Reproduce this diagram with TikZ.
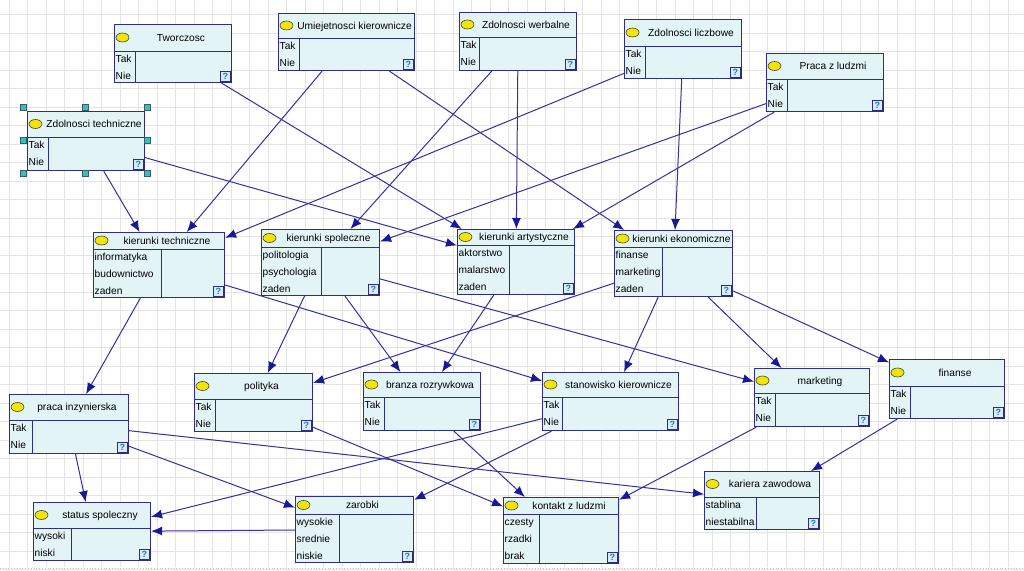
\documentclass[tikz,border=0pt]{standalone}
\usepackage{fontspec}
\setmainfont{Liberation Sans}
\usetikzlibrary{arrows.meta}
\definecolor{bnborder}{HTML}{2E2E88}
\definecolor{bnfill}{HTML}{E3F4F6}
\definecolor{bnedge}{HTML}{32329A}
\definecolor{bnhead}{HTML}{18189A}
\definecolor{bngrid}{HTML}{E4E4E4}
\definecolor{bnyellow}{HTML}{F2E600}
\definecolor{bnqtext}{HTML}{2A78B0}
\definecolor{bnqfill}{HTML}{D6ECF6}
\definecolor{bnhandlefill}{HTML}{1CCACA}
\tikzset{
 bnframe/.style={rectangle, draw=bnborder, fill=bnfill, line width=1.1pt, inner sep=0pt},
 bnsep/.style={draw=bnborder, line width=1pt},
 bntitle/.style={font=\fontsize{10.2}{12}\selectfont, text=black, inner sep=0pt, anchor=base},
 bnstate/.style={font=\fontsize{10.2}{12}\selectfont, text=black, inner sep=0pt, anchor=base west},
 bnq/.style={rectangle, draw=bnborder, fill=bnqfill, line width=0.8pt, minimum size=9.5pt, inner sep=0pt, font=\fontsize{9}{9}\selectfont\bfseries, text=bnqtext, anchor=south east},
 bnoval/.style={draw=black!75, fill=bnyellow, line width=0.6pt},
 bnarrow/.style={draw=bnedge, line width=1pt, -{Latex[length=11pt,width=9pt,color=bnhead]}},
 bnhandle/.style={rectangle, draw=black!70!cyan, fill=bnhandlefill, line width=0.6pt, minimum size=6pt, inner sep=0pt},
 bngridline/.style={draw=bngrid, line width=0.9pt}
}
% #1 name, #2 x1, #3 y1, #4 x2, #5 y2, #6 title bottom, #7 divider, #8 title, #9 states
\newcommand\bnnode[9]{%
 \node[bnframe, anchor=north west, minimum width={(#4-#2)*1pt}, minimum height={(#5-#3)*1pt}] (#1) at (#2,#3) {};
 \draw[bnsep] (#2,#6) -- (#4,#6) (#7,#6) -- (#7,#5);
 \draw[bnoval] ({#2+8.5},{(#3+#6)/2}) ellipse [x radius=6.5pt, y radius=4.5pt];
 \node[bntitle] (#1-title) at ({(#2+17+#4)/2},{(#3+#6)/2+3.7}) {#8};
 \foreach \bnst [count=\k from 0] in {#9} {\node[bnstate] (#1-s\k) at ({#2+1.5},{#6+11+17*\k}) {\bnst};}
 \node[bnq] (#1-q) at ({#4-0.6},{#5-0.6}) {?};
}
\begin{document}
\begin{tikzpicture}[x=1pt,y=-1pt]
\useasboundingbox (0,0) rectangle (1024,570);
\fill[white] (0,0) rectangle (1024,570);
\foreach \gx in {0,...,55} {\draw[bngridline] ({9.3+18.5*\gx},0) -- ({9.3+18.5*\gx},567);}
\foreach \gy in {0,...,30} {\draw[bngridline] (0,{14.5+18.5*\gy}) -- (1024,{14.5+18.5*\gy});}
\draw[black!25, dotted, line width=0.8pt] (0,568) -- (1024,568);

\bnnode{tw}{114}{24}{231}{82}{51}{135}{Tworczosc}{Tak,Nie}
\bnnode{zt}{27}{111}{144}{170}{137}{48}{Zdolnosci techniczne}{Tak,Nie}
\bnnode{uk}{278}{13}{414}{70}{38}{299}{Umiejetnosci kierownicze}{Tak,Nie}
\bnnode{zw}{459}{12}{576}{70}{37}{479}{Zdolnosci werbalne}{Tak,Nie}
\bnnode{zl}{624}{19}{741}{78}{46}{645}{Zdolnosci liczbowe}{Tak,Nie}
\bnnode{pl}{766}{53}{883}{111}{79}{787}{Praca z ludzmi}{Tak,Nie}
\bnnode{kt}{93}{232}{224}{297}{249}{161}{kierunki techniczne}{informatyka,budownictwo,zaden}
\bnnode{ks}{261}{229}{379}{295}{247}{321}{kierunki spoleczne}{politologia,psychologia,zaden}
\bnnode{ka}{457}{229}{574}{294}{245}{509}{kierunki artystyczne}{aktorstwo,malarstwo,zaden}
\bnnode{ke}{614}{230}{732}{296}{247}{662}{kierunki ekonomiczne}{finanse,marketing,zaden}
\bnnode{pi}{9}{394}{128}{453}{420}{32}{praca inzynierska}{Tak,Nie}
\bnnode{po}{194}{373}{312}{431}{399}{215}{polityka}{Tak,Nie}
\bnnode{br}{363}{372}{480}{430}{397}{384}{branza rozrywkowa}{Tak,Nie}
\bnnode{sk}{542}{372}{678}{430}{397}{562}{stanowisko kierownicze}{Tak,Nie}
\bnnode{ma}{754}{368}{869}{426}{393}{775}{marketing}{Tak,Nie}
\bnnode{fi}{889}{359}{1004}{418}{386}{910}{finanse}{Tak,Nie}
\bnnode{ss}{33}{502}{150}{560}{528}{71}{status spoleczny}{wysoki,niski}
\bnnode{za}{295}{496}{413}{562}{514}{339}{zarobki}{wysokie,srednie,niskie}
\bnnode{kl}{503}{497}{618}{563}{514}{539}{kontakt z ludzmi}{czesty,rzadki,brak}
\bnnode{kz}{704}{471}{819}{529}{497}{756}{kariera zawodowa}{stablina,niestabilna}

% selection handles of Zdolnosci techniczne
\node[bnhandle] (zt-h1) at (23.5,107.5) {};
\node[bnhandle] (zt-h2) at (85.5,107.5) {};
\node[bnhandle] (zt-h3) at (147.5,107.5) {};
\node[bnhandle] (zt-h4) at (23.5,140.5) {};
\node[bnhandle] (zt-h5) at (147.5,140.5) {};
\node[bnhandle] (zt-h6) at (23.5,173.5) {};
\node[bnhandle] (zt-h7) at (85.5,173.5) {};
\node[bnhandle] (zt-h8) at (147.5,173.5) {};

% connectors
\draw[bnarrow] (zt) -- (kt);
\draw[bnarrow] (zt) -- (ka);
\draw[bnarrow] (tw) -- (ka);
\draw[bnarrow] (uk) -- (kt);
\draw[bnarrow] (uk) -- (ke);
\draw[bnarrow] (zw) -- (ks);
\draw[bnarrow] (zw) -- (ka);
\draw[bnarrow] (zl) -- (kt);
\draw[bnarrow] (zl) -- (ke);
\draw[bnarrow] (pl) -- (ks);
\draw[bnarrow] (pl) -- (ka);
\draw[bnarrow] (kt) -- (pi);
\draw[bnarrow] (kt) -- (sk);
\draw[bnarrow] (ks) -- (po);
\draw[bnarrow] (ks) -- (br);
\draw[bnarrow] (ks) -- (ma);
\draw[bnarrow] (ka) -- (br);
\draw[bnarrow] (ke) -- (po);
\draw[bnarrow] (ke) -- (sk);
\draw[bnarrow] (ke) -- (ma);
\draw[bnarrow] (ke) -- (fi);
\draw[bnarrow] (pi) -- (ss);
\draw[bnarrow] (pi) -- (za);
\draw[bnarrow] (pi) -- (kz);
\draw[bnarrow] (po) -- (kl);
\draw[bnarrow] (br) -- (kl);
\draw[bnarrow] (sk) -- (ss);
\draw[bnarrow] (sk) -- (za);
\draw[bnarrow] (za) -- (ss);
\draw[bnarrow] (ma) -- (kl);
\draw[bnarrow] (fi) -- (kz);
\end{tikzpicture}
\end{document}
